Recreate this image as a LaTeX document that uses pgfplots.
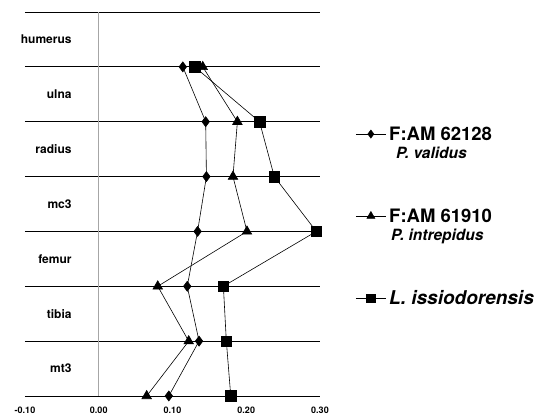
\documentclass[border=0pt]{standalone}
\usepackage{fontspec}
\setmainfont{TeX Gyre Heros}
\usepackage{pgfplots}
\pgfplotsset{compat=1.18}
\newcommand\catfont{\bfseries\fontsize{12}{14}\selectfont}
\newcommand\legA{\bfseries\fontsize{18.5}{20}\selectfont}
\newcommand\legB{\bfseries\itshape\fontsize{15.5}{17}\selectfont}
\newcommand\legC{\bfseries\itshape\fontsize{19}{21}\selectfont}
\begin{document}
\begin{tikzpicture}
\begin{axis}[
  scale only axis, width=295pt, height=384pt,
  xmin=-0.1, xmax=0.3, ymin=0, ymax=7,
  clip=false,
  axis line style={draw=none},
  tick style={draw=none},
  ytick={0,1,2,3,4,5,6,7}, yticklabels={},
  ymajorgrids, grid style={black, line width=0.7pt},
  xtick={-0.1,0,0.1,0.2,0.3},
  xticklabels={-0.10,0.00,0.10,0.20,0.30},
  xticklabel style={font=\bfseries\fontsize{9}{10}\selectfont, anchor=center, yshift=-14pt},
  legend image code/.code={\draw[mark repeat=2,mark phase=2,#1] plot coordinates {(0pt,0pt) (15pt,0pt) (30pt,0pt)};},
  legend style={draw=none, fill=none, at={(1.12,0.71)}, anchor=north west,
    row sep=61pt, column sep=0pt, inner sep=0pt,
    nodes={inner xsep=3pt, inner ysep=3pt}},
  legend cell align=left,
]
\addplot[gray!70, line width=0.6pt, forget plot] coordinates {(0,0) (0,7)};

\addplot[black, line width=0.6pt, mark=diamond*, mark size=5pt, forget plot] coordinates {
(0.114,6) (0.145,5) (0.146,4) (0.134,3) (0.120,2) (0.136,1) (0.095,0)};
\addplot[black, line width=0.6pt, mark=triangle*, mark size=5.5pt, forget plot] coordinates {
(0.141,6) (0.188,5) (0.182,4) (0.201,3) (0.080,2) (0.122,1) (0.065,0)};
\addplot[black, line width=0.6pt, mark=square*, mark size=5.3pt, forget plot] coordinates {
(0.130,6) (0.218,5) (0.238,4) (0.295,3) (0.169,2) (0.173,1) (0.179,0)};

\addlegendimage{black, line width=0.6pt, mark=diamond*, mark size=4pt}
\addlegendentry{\makebox[0pt][l]{\raisebox{-18.5pt}[0pt][0pt]{\hspace{7pt}\legB P. validus}}\legA F:AM 62128}
\addlegendimage{black, line width=0.6pt, mark=triangle*, mark size=4.5pt}
\addlegendentry{\makebox[0pt][l]{\raisebox{-18.5pt}[0pt][0pt]{\hspace{2pt}\legB P. intrepidus}}\legA F:AM 61910}
\addlegendimage{black, line width=0.6pt, mark=square*, mark size=4.3pt}
\addlegendentry{\legC L. issiodorensis}

\node[anchor=east, inner sep=0pt, font=\catfont] at (axis cs:-0.0366,6.5) {humerus};
\node[anchor=east, inner sep=0pt, font=\catfont] at (axis cs:-0.0366,5.5) {ulna};
\node[anchor=east, inner sep=0pt, font=\catfont] at (axis cs:-0.0366,4.5) {radius};
\node[anchor=east, inner sep=0pt, font=\catfont] at (axis cs:-0.0366,3.5) {mc3};
\node[anchor=east, inner sep=0pt, font=\catfont] at (axis cs:-0.0366,2.5) {femur};
\node[anchor=east, inner sep=0pt, font=\catfont] at (axis cs:-0.0366,1.5) {tibia};
\node[anchor=east, inner sep=0pt, font=\catfont] at (axis cs:-0.0366,0.5) {mt3};
\end{axis}
\path (current axis.south west) ++(-25pt,-19pt) rectangle ++(546pt,415pt);
\end{tikzpicture}
\end{document}
